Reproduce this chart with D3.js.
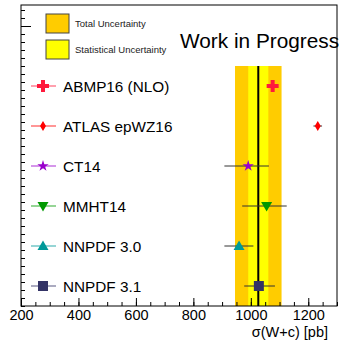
<!DOCTYPE html>
<html>
<head>
<meta charset="utf-8">
<script src="https://cdn.jsdelivr.net/npm/d3@7"></script>
<style>
  body { margin: 0; background: #fff; }
  svg { font-family: "Liberation Sans", Arial, sans-serif; }
</style>
</head>
<body>
<div id="chart"></div>
<script>
// data
var categories = ['ABMP16 (NLO)', 'ATLAS epWZ16', 'CT14', 'MMHT14', 'NNPDF 3.0', 'NNPDF 3.1'];
var rows = [5.5, 4.5, 3.5, 2.5, 1.5, 0.5];
var values = [1076, 1233, 991, 1055, 959, 1028];
var errLow = [1061, 1218, 908, 970, 908, 977];
var errHigh = [1091, 1248, 1063, 1125, 1009, 1084];
var colors = ['#ff1a3c', '#ff0000', '#9900cc', '#009900', '#009999', '#333366'];
var markers = ['cross', 'diamond', 'star', 'tridown', 'triup', 'square'];

var measured = 1026;
var statBand = [991, 1061];
var totalBand = [945, 1107];
var bandTop = 6;

var xTicks = [200, 400, 600, 800, 1000, 1200];
var xMinor = d3.range(200, 1301, 50);
var yMajor = [7];
var yMinor = d3.range(0, 7.5, 0.2);

var chart_width = 341
var chart_height = 342
var frameL = 21, frameR = 337, frameT = 5, frameB = 306

var svg = d3.select('#chart')
    .append('svg')
    .attr('width', chart_width)
    .attr('height', chart_height);

var x = d3.scaleLinear().domain([200, 1300]).range([frameL, frameR]);
var y = d3.scaleLinear().domain([0, 7.525]).range([frameB, frameT]);

// uncertainty bands
svg.append('rect')
    .attr('x', x(totalBand[0]))
    .attr('y', y(bandTop))
    .attr('width', x(totalBand[1]) - x(totalBand[0]))
    .attr('height', y(0) - y(bandTop))
    .attr('fill', '#ffcc00');
svg.append('rect')
    .attr('x', x(statBand[0]))
    .attr('y', y(bandTop))
    .attr('width', x(statBand[1]) - x(statBand[0]))
    .attr('height', y(0) - y(bandTop))
    .attr('fill', '#ffff00');
svg.append('line')
    .attr('x1', x(measured)).attr('x2', x(measured))
    .attr('y1', y(bandTop)).attr('y2', y(0))
    .attr('stroke', '#000')
    .attr('stroke-width', 2);

// marker shapes
function markerPath(type) {
    if (type == 'cross') return 'M-2,-6H2V-2H6V2H2V6H-2V2H-6V-2H-2Z';
    if (type == 'diamond') return 'M0,-5L3,0L0,5L-3,0Z';
    if (type == 'star') return d3.symbol(d3.symbolStar, 40)();
    if (type == 'tridown') return 'M-5.5,-4L5.5,-4L0,5.5Z';
    if (type == 'triup') return 'M-5.5,4L5.5,4L0,-5.5Z';
    return 'M-5,-5H5V5H-5Z';
}

// error bars
svg.selectAll('line.err')
    .data(values)
    .enter()
    .append('line')
    .attr('class', 'err')
    .attr('x1', function(d, i) { return x(errLow[i]); })
    .attr('x2', function(d, i) { return x(errHigh[i]); })
    .attr('y1', function(d, i) { return y(rows[i]); })
    .attr('y2', function(d, i) { return y(rows[i]); })
    .attr('stroke', '#333')
    .attr('stroke-width', 1);

// points
svg.selectAll('path.pt')
    .data(values)
    .enter()
    .append('path')
    .attr('class', 'pt')
    .attr('d', function(d, i) { return markerPath(markers[i]); })
    .attr('transform', function(d, i) {
        return 'translate(' + x(d) + ',' + y(rows[i]) + ')';
    })
    .attr('fill', function(d, i) { return colors[i]; });

// frame
svg.append('rect')
    .attr('x', frameL).attr('y', frameT)
    .attr('width', frameR - frameL).attr('height', frameB - frameT)
    .attr('fill', 'none')
    .attr('stroke', '#000')
    .attr('stroke-width', 1);

// x axis, ticks pointing inward
var xAxis = svg.append('g')
    .attr('transform', 'translate(0,' + frameB + ')')
    .call(d3.axisBottom(x).tickValues(xTicks).tickSize(-8).tickPadding(4).tickFormat(d3.format('d')));
xAxis.select('.domain').remove();
xAxis.selectAll('text').attr('font-size', 14.5).attr('fill', '#000')
    .attr('font-family', '"Liberation Sans", Arial, sans-serif');
svg.append('g')
    .attr('transform', 'translate(0,' + frameB + ')')
    .call(d3.axisBottom(x).tickValues(xMinor).tickSize(-4).tickFormat(''))
    .select('.domain').remove();

// y axis, no labels
var yAxis = svg.append('g')
    .attr('transform', 'translate(' + frameL + ',0)')
    .call(d3.axisLeft(y).tickValues(yMajor).tickSize(-10).tickFormat(''));
yAxis.select('.domain').remove();
svg.append('g')
    .attr('transform', 'translate(' + frameL + ',0)')
    .call(d3.axisLeft(y).tickValues(yMinor).tickSize(-4).tickFormat(''))
    .select('.domain').remove();

// axis title
svg.append('text')
    .attr('x', 328)
    .attr('y', 337)
    .attr('text-anchor', 'end')
    .attr('font-size', 14.5)
    .text('σ(W+c) [pb]');

// band legend
var bandLegend = [['Total Uncertainty', '#ffcc00'], ['Statistical Uncertainty', '#ffff00']];
svg.selectAll('rect.leg')
    .data(bandLegend)
    .enter()
    .append('rect')
    .attr('class', 'leg')
    .attr('x', 46)
    .attr('y', function(d, i) { return 14 + i * 26; })
    .attr('width', 23)
    .attr('height', 19)
    .attr('fill', function(d) { return d[1]; })
    .attr('stroke', '#444')
    .attr('stroke-width', 1);
svg.selectAll('text.leg')
    .data(bandLegend)
    .enter()
    .append('text')
    .attr('class', 'leg')
    .attr('x', 75)
    .attr('y', function(d, i) { return 27 + i * 26; })
    .attr('font-size', 9.5)
    .attr('fill', '#222')
    .text(function(d) { return d[0]; });

svg.append('text')
    .attr('x', 180)
    .attr('y', 48)
    .attr('font-size', 20.8)
    .text('Work in Progress');

// model legend
svg.selectAll('line.legline')
    .data(categories)
    .enter()
    .append('line')
    .attr('class', 'legline')
    .attr('x1', 31).attr('x2', 56)
    .attr('y1', function(d, i) { return y(rows[i]); })
    .attr('y2', function(d, i) { return y(rows[i]); })
    .attr('stroke', function(d, i) { return colors[i]; })
    .attr('stroke-opacity', 0.55)
    .attr('stroke-width', 1.5);
svg.selectAll('path.legpt')
    .data(categories)
    .enter()
    .append('path')
    .attr('class', 'legpt')
    .attr('d', function(d, i) { return markerPath(markers[i]); })
    .attr('transform', function(d, i) {
        return 'translate(43,' + y(rows[i]) + ')';
    })
    .attr('fill', function(d, i) { return colors[i]; });
svg.selectAll('text.legtxt')
    .data(categories)
    .enter()
    .append('text')
    .attr('class', 'legtxt')
    .attr('x', 63)
    .attr('y', function(d, i) { return y(rows[i]) + 6; })
    .attr('font-size', 15.3)
    .text(function(d) { return d; });
</script>
</body>
</html>
